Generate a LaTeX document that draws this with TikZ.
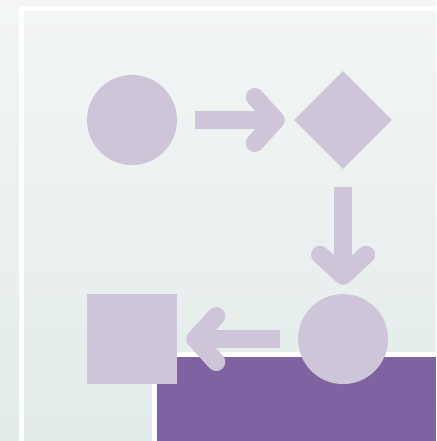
\documentclass[tikz,border=0pt]{standalone}
\usetikzlibrary{positioning}
\usetikzlibrary{shapes.geometric}
\usetikzlibrary{arrows.meta}

\definecolor{bgtop}{HTML}{F3F5F5}
\definecolor{bgbot}{HTML}{E2ECEA}
\definecolor{blobfill}{HTML}{CEC6D8}
\definecolor{bandpurple}{HTML}{7F63A0}

\begin{document}
\begin{tikzpicture}[
    x=0.025cm, y=-0.025cm,
    node distance=5.275cm, on grid,
    blob/.style={fill=blobfill, draw=none, inner sep=0pt},
    flow/.style={draw=blobfill, line width=0.45cm,
        -{Straight Barb[length=0.525cm, width=1.15cm, round]},
        shorten <=0.45cm, shorten >=0.225cm}]
    % Sfondo e cornice
    \clip (0,0) rectangle (436,441);
    \shade[top color=bgtop, bottom color=bgbot] (0,0) rectangle (436,441);
    \draw[white, line width=0.125cm] (21.5,460) |- (460,8.5);
    % Banda viola in basso a destra
    \fill[white] (152,352) rectangle (436,441);
    \fill[bandpurple] (157,357) rectangle (436,441);

    % Forme del flusso
    \node[blob, circle, minimum size=2.25cm] (start) at (132,120) {};
    \node[blob, diamond, minimum size=2.45cm, right=of start] (check) {};
    \node[blob, circle, minimum size=2.25cm, below=5.475cm of check] (finish) {};
    \node[blob, rectangle, minimum size=2.25cm, left=of finish] (stop) {};

    % Frecce
    \draw[flow] (start) -- (check);
    \draw[flow] (check) -- (finish);
    \draw[flow] (finish) -- (stop);
\end{tikzpicture}
\end{document}
